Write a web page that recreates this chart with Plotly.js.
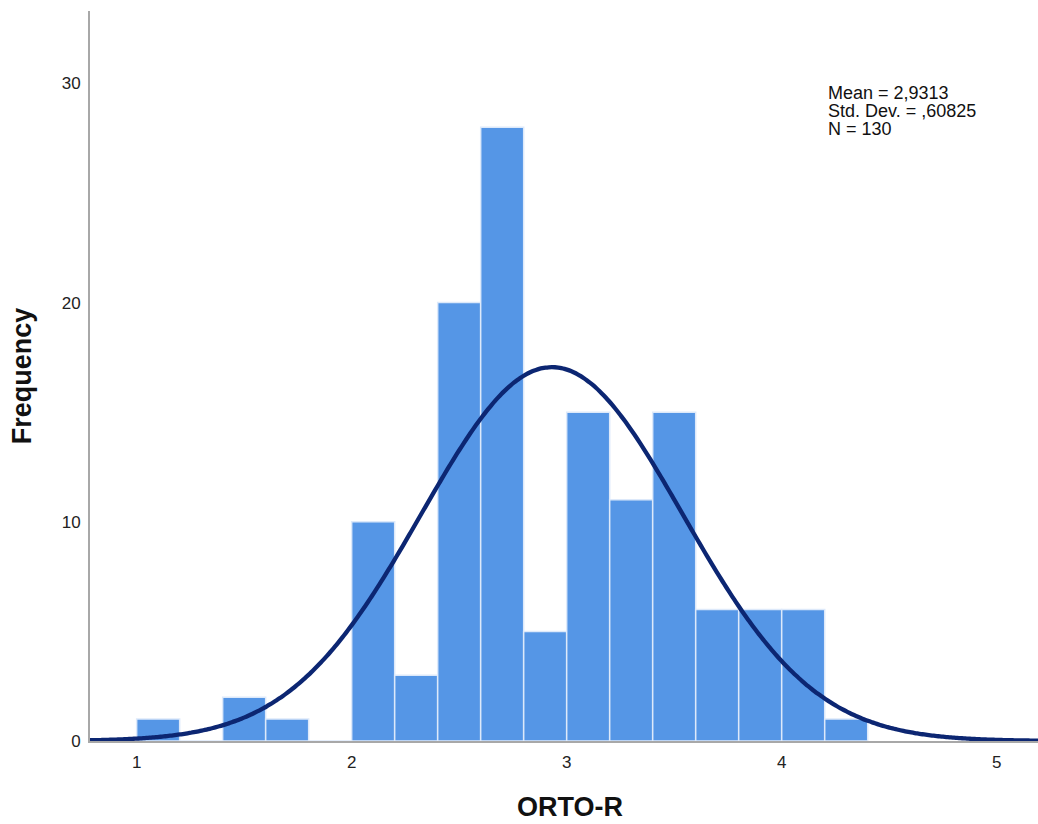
<!DOCTYPE html>
<html>
<head>
<meta charset="utf-8">
<script src="https://cdn.plot.ly/plotly-3.0.1.min.js"></script>
<style>html,body{margin:0;padding:0;background:#fff;}#chart{width:1038px;height:824px;}</style>
</head>
<body>
<div id="chart"></div>
<script>
// Histogram bins (width 0.2) and frequencies
var binCenters = [1.1, 1.3, 1.5, 1.7, 1.9, 2.1, 2.3, 2.5, 2.7, 2.9, 3.1, 3.3, 3.5, 3.7, 3.9, 4.1, 4.3];
var frequencies = [1, 0, 2, 1, 0, 10, 3, 20, 28, 5, 15, 11, 15, 6, 6, 6, 1];
var binWidth = 0.2;
// Summary statistics shown in the legend box
var meanValue = 2.9313;
var stdDev = 0.60825;
var nCount = 130;
var statLabels = ["Mean = 2,9313", "Std. Dev. = ,60825", "N = 130"];
var xTitle = "ORTO-R";
var yTitle = "Frequency";
var xTickVals = [1, 2, 3, 4, 5];
var xTickText = ["1", "2", "3", "4", "5"];
var yTickVals = [0, 10, 20, 30];
var yTickText = ["0", "10", "20", "30"];

// Fitted normal curve, scaled to counts per bin
var curveX = [], curveY = [];
var x0 = 0.78, x1 = 5.2, steps = 300;
for (var i = 0; i <= steps; i++) {
  var x = x0 + (x1 - x0) * i / steps;
  var z = (x - meanValue) / stdDev;
  curveX.push(x);
  curveY.push(nCount * binWidth * Math.exp(-0.5 * z * z) / (stdDev * Math.sqrt(2 * Math.PI)));
}

var traces = [
  {
    type: 'bar', x: binCenters, y: frequencies, width: binWidth,
    marker: {color: '#5596E6', line: {color: '#DDE9FA', width: 1.5}},
    hoverinfo: 'x+y', showlegend: false
  },
  {
    type: 'scatter', mode: 'lines', x: curveX, y: curveY,
    line: {color: '#0C2672', width: 4.3, shape: 'spline'},
    hoverinfo: 'skip', showlegend: false
  }
];

var annY = [93, 111, 128.5];
var annotations = statLabels.map(function (t, k) {
  return {
    text: t, xref: 'paper', yref: 'paper',
    x: (826 - 90) / 948, y: (741 - annY[k]) / 730,
    xanchor: 'left', yanchor: 'middle', showarrow: false,
    font: {family: 'Liberation Sans, Arial, sans-serif', size: 18, color: '#111'}
  };
});
annotations.push({
  text: xTitle, xref: 'paper', yref: 'paper',
  x: (569.5 - 90) / 948, y: (741 - 807) / 730,
  xanchor: 'center', yanchor: 'middle', showarrow: false,
  font: {size: 27, color: '#111', family: 'Liberation Sans, Arial, sans-serif', weight: 'bold'}
});

var layout = {
  width: 1038, height: 824,
  margin: {l: 90, r: 0, t: 11, b: 83},
  paper_bgcolor: '#fff', plot_bgcolor: '#fff',
  bargap: 0,
  font: {family: 'Liberation Sans, Arial, sans-serif', color: '#222'},
  xaxis: {
    range: [0.783, 5.192], tickvals: xTickVals, ticktext: xTickText,
    showgrid: false, zeroline: false, ticks: '',
    showline: true, linecolor: '#A8A8A8', linewidth: 2, layer: 'below traces',
    tickfont: {size: 17, color: '#222'}, ticklabelstandoff: 5
  },
  yaxis: {
    range: [0, 33.3], tickvals: yTickVals, ticktext: yTickText,
    showgrid: false, zeroline: false, ticks: '',
    showline: true, linecolor: '#A8A8A8', linewidth: 2, layer: 'below traces',
    tickfont: {size: 17, color: '#222'}, ticklabelstandoff: 4,
    title: {text: yTitle, font: {size: 27, color: '#111', family: 'Liberation Sans, Arial, sans-serif', weight: 'bold'}, standoff: 22}
  },
  annotations: annotations
};

Plotly.newPlot('chart', traces, layout, {displayModeBar: false, staticPlot: true});
</script>
</body>
</html>
